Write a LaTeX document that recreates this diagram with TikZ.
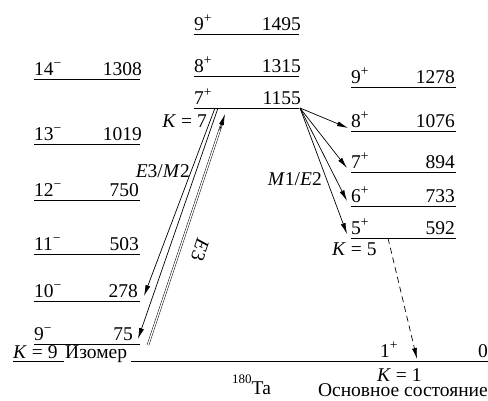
\documentclass[tikz,border=0pt]{standalone}
\usepackage{fontspec}
\setmainfont{Liberation Serif}
\usetikzlibrary{arrows.meta,calc}
\newcommand\mylev[7]{%
  \coordinate (#1l) at (#2,#4);
  \coordinate (#1r) at (#3,#4);
  \draw[lvl] (#1l) -- (#1r);
  \node[lab] (#1s) at (#2,#4-4) {#5};
  \node[labr] (#1e) at (#7,#4-4) {#6};
}
\begin{document}
\begin{tikzpicture}[x=1pt,y=-1pt,
  font=\fontsize{19.5}{22}\selectfont,
  lvl/.style={line width=0.9pt},
  lab/.style={inner sep=0pt, anchor=base west},
  labr/.style={inner sep=0pt, anchor=base east},
  tr/.style={line width=0.7pt, -{Latex[length=11pt,width=5pt]}}]
\useasboundingbox (0,0) rectangle (488,400);
% K=9 band
\mylev{a14}{34}{140}{79}{14\textsuperscript{−}}{1308}{142}
\mylev{a13}{34}{140}{144}{13\textsuperscript{−}}{1019}{142}
\mylev{a12}{34}{140}{200}{12\textsuperscript{−}}{750}{139}
\mylev{a11}{34}{140}{254}{11\textsuperscript{−}}{503}{139}
\mylev{a10}{34}{140}{301}{10\textsuperscript{−}}{278}{138}
\mylev{a9}{34}{140}{344}{9\textsuperscript{−}}{75}{133}
% K=7 band
\mylev{b9}{194}{299}{34}{9\textsuperscript{+}}{1495}{301}
\mylev{b8}{194}{299}{76}{8\textsuperscript{+}}{1315}{301}
\mylev{b7}{194}{299}{108}{7\textsuperscript{+}}{1155}{301}
% K=5 band
\mylev{c9}{351}{456}{87}{9\textsuperscript{+}}{1278}{455}
\mylev{c8}{351}{456}{131}{8\textsuperscript{+}}{1076}{455}
\mylev{c7}{351}{456}{172}{7\textsuperscript{+}}{894}{455}
\mylev{c6}{351}{456}{206}{6\textsuperscript{+}}{733}{455}
\mylev{c5}{351}{456}{238}{5\textsuperscript{+}}{592}{455}
% ground line
\node[lab] (k9) at (13,358) {\textit{K} = 9};
\node[lab] (iso) at (65,358) {Изомер};
\coordinate (g0) at (13,361);
\coordinate (g1) at (64,361);
\coordinate (g2) at (131,361);
\coordinate (g3) at (488,361);
\draw[lvl] (g0) -- (g1);
\draw[lvl] (g2) -- (g3);
\node[labr] (zero) at (488,357) {0};
\node[lab] (one) at (380,357) {1\textsuperscript{+}};
\node[lab] (k1) at (377,381) {\textit{K} = 1};
\node[labr] (gs) at (488,396) {Основное состояние};
\node[lab] (ta) at (232,394) {\raisebox{11pt}{\fontsize{13}{13}\selectfont 180}Ta};
% K labels
\node[labr] (k7) at (207,127) {\textit{K} = 7};
\node[lab] (k5) at (332,255) {\textit{K} = 5};
\node[labr] (m1) at (322,185) {\textit{M}1/\textit{E}2};
\node[labr] (e3m2) at (190,177) {\textit{E}3/\textit{M}2};
\node[rotate=-108, inner sep=0pt] (e3l) at (200,250) {\textit{E}3};
% M1/E2 transitions
\coordinate (o7) at (300,108);
\coordinate (t8) at (348,128);
\coordinate (t7) at (347,168);
\coordinate (t6) at (347,201);
\coordinate (t5) at (347,234);
\draw[tr] (o7) -- (t8);
\draw[tr] (o7) -- (t7);
\draw[tr] (o7) -- (t6);
\draw[tr] (o7) -- (t5);
% E3/M2 transitions
\coordinate (sA) at (215,108);
\coordinate (tA) at (144,296);
\coordinate (sB) at (218,108);
\coordinate (tB) at (138,339);
\draw[tr] (sA) -- (tA);
\draw[tr] (sB) -- (tB);
% E3 excitation (double line)
\coordinate (e3s) at (148,345);
\coordinate (e3t) at (225,114);
\draw[line width=0.5pt, double, double distance=1.3pt, shorten >=9pt] (e3s) -- (e3t);
\draw[tr] ($(e3s)!0.93!(e3t)$) -- (e3t);
% dashed decay
\coordinate (ds) at (388,238);
\coordinate (dt) at (417,359);
\draw[tr, dash pattern=on 6pt off 4pt] (ds) -- (dt);
\end{tikzpicture}
\end{document}
